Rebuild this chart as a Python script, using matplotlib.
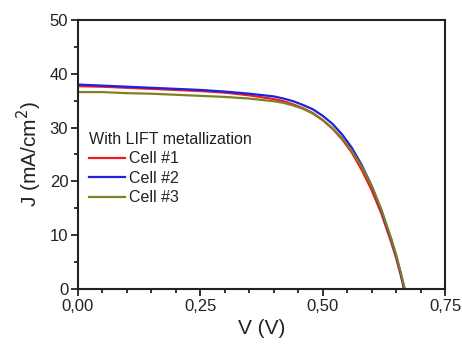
import matplotlib.pyplot as plt
from matplotlib.ticker import MultipleLocator, FixedFormatter, FixedLocator

plt.rcParams['font.family'] = ['Liberation Sans', 'DejaVu Sans']

# Voltage points (V)
v = [0.00, 0.05, 0.10, 0.15, 0.20, 0.25, 0.30, 0.35, 0.40, 0.42, 0.44,
     0.46, 0.48, 0.50, 0.52, 0.54, 0.56, 0.58, 0.60, 0.62, 0.64, 0.65, 0.66]

# Current density (mA/cm2) for each cell
cell1 = [37.7, 37.6, 37.4, 37.2, 37.0, 36.8, 36.5, 36.0, 35.3, 34.9, 34.3,
         33.6, 32.7, 31.4, 29.8, 27.8, 25.3, 22.1, 18.4, 14.0, 8.7, 5.8, 2.4]
cell2 = [38.0, 37.8, 37.6, 37.4, 37.2, 37.0, 36.7, 36.3, 35.8, 35.4, 34.9,
         34.2, 33.4, 32.2, 30.7, 28.7, 26.2, 23.0, 19.2, 14.6, 9.2, 6.2, 2.7]
cell3 = [36.6, 36.6, 36.4, 36.3, 36.1, 35.9, 35.7, 35.4, 34.9, 34.6, 34.1,
         33.5, 32.6, 31.4, 29.9, 28.0, 25.6, 22.7, 19.2, 14.8, 9.4, 6.4, 2.9]
voc = [0.666, 0.667, 0.668]

x_ticks = [0.0, 0.25, 0.5, 0.75]
x_labels = ['0,00', '0,25', '0,50', '0,75']

fig = plt.figure(figsize=(4.62, 3.47), dpi=100)
ax = fig.add_axes([78/462, 1 - 289/347, (445 - 78)/462, (289 - 20)/347])

ax.plot(v + [voc[0]], cell1 + [0], color='#ee1c1c', lw=1.6, label='Cell #1')
ax.plot(v + [voc[1]], cell2 + [0], color='#2020e0', lw=1.6, label='Cell #2')
ax.plot(v + [voc[2]], cell3 + [0], color='#808020', lw=1.6, label='Cell #3')

ax.set_xlim(0, 0.75)
ax.set_ylim(0, 50)
ax.xaxis.set_major_locator(FixedLocator(x_ticks))
ax.xaxis.set_major_formatter(FixedFormatter(x_labels))
ax.xaxis.set_minor_locator(MultipleLocator(0.05))
ax.yaxis.set_major_locator(MultipleLocator(10))
ax.yaxis.set_minor_locator(MultipleLocator(5))
ax.tick_params(which='major', length=5, width=1.3, labelsize=12, colors='#222222', pad=2)
ax.tick_params(which='minor', length=3, width=1.3, colors='#222222')
for s in ax.spines.values():
    s.set_linewidth(1.5)
    s.set_color('#222222')

ax.set_xlabel('V (V)', fontsize=15, color='#222222', labelpad=4)
ax.set_ylabel('J (mA/cm$^2$)', fontsize=15, color='#222222', labelpad=4)

leg = ax.legend(title='With LIFT metallization', loc='upper left',
                bbox_to_anchor=(0.005, 0.62), frameon=False, fontsize=11.5,
                title_fontsize=11.5, handlelength=2.2, handletextpad=0.3,
                labelspacing=0.28, borderaxespad=0.2)
leg._legend_box.align = 'left'
plt.setp(leg.get_texts(), color='#222222')
leg.get_title().set_color('#222222')

fig.savefig('out.png', dpi=100)
